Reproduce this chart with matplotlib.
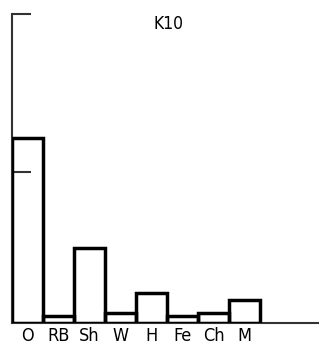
import matplotlib
matplotlib.use('Agg')
import matplotlib.pyplot as plt

categories = ['O', 'RB', 'Sh', 'W', 'H', 'Fe', 'Ch', 'M']
values = [60, 2.3, 24.3, 3.2, 9.7, 2.3, 3.2, 7.4]
title = 'K10'

plt.rcParams['font.family'] = ['DejaVu Sans']
plt.rcParams['font.stretch'] = 'condensed'

fig = plt.figure(figsize=(3.19, 3.44), dpi=100)
ax = fig.add_axes([12 / 319, 21 / 344, 307 / 319, 309 / 344])

# Draw the bars as outlined steps (no fill, so the axis tick shows through)
ax.bar(range(len(categories)), values, width=1.0, fill=False,
       edgecolor='black', linewidth=2.5, zorder=3)

ax.set_xlim(-0.5, 9.4)
ax.set_ylim(0, 100)
ax.set_yticks([49, 100])
ax.set_yticklabels([])
ax.tick_params(axis='y', direction='in', length=14, width=1.5, color='#333333')
ax.set_xticks(range(len(categories)))
ax.set_xticklabels(categories, fontsize=13, stretch='condensed')
ax.tick_params(axis='x', length=0, pad=3)

for side in ['top', 'right']:
    ax.spines[side].set_visible(False)
ax.spines['left'].set_linewidth(1.5)
ax.spines['bottom'].set_linewidth(1.5)
ax.spines['left'].set_color('#333333')
ax.spines['bottom'].set_color('#333333')

ax.text(0.51, 0.997, title, transform=ax.transAxes, ha='center', va='top',
        fontsize=12.5, stretch='condensed')

fig.savefig('out.png', dpi=100)
